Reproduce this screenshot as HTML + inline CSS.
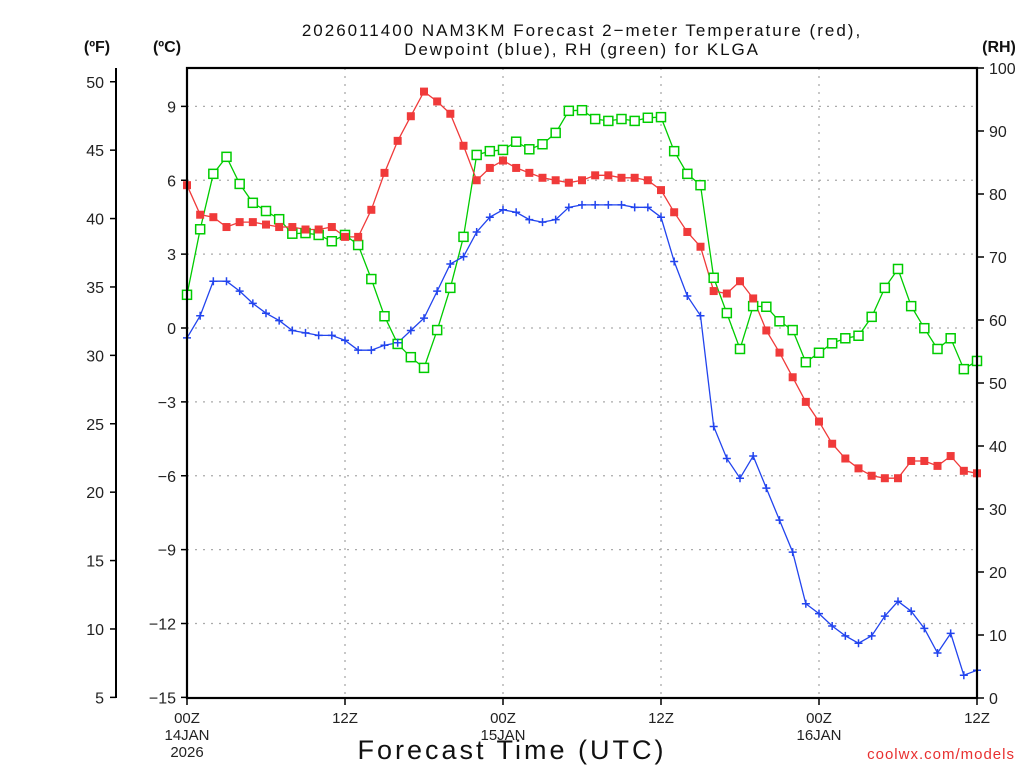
<!DOCTYPE html>
<html><head><meta charset="utf-8"><style>
body{margin:0;background:#fff;}
svg text{font-family:"Liberation Sans","DejaVu Sans",sans-serif;}
</style></head><body>
<svg id="c" width="1024" height="768" xmlns="http://www.w3.org/2000/svg">
<g id="g"></g>
</svg>
<script>
const hours=[];for(let i=0;i<=60;i++)hours.push(i);
const tempC=[5.8,4.6,4.5,4.1,4.3,4.3,4.2,4.1,4.1,4.0,4.0,4.1,3.7,3.7,4.8,6.3,7.6,8.6,9.6,9.2,8.7,7.4,6.0,6.5,6.8,6.5,6.3,6.1,6.0,5.9,6.0,6.2,6.2,6.1,6.1,6.0,5.6,4.7,3.9,3.3,1.5,1.4,1.9,1.2,-0.1,-1.0,-2.0,-3.0,-3.8,-4.7,-5.3,-5.7,-6.0,-6.1,-6.1,-5.4,-5.4,-5.6,-5.2,-5.8,-5.9];
const dewC=[-0.4,0.5,1.9,1.9,1.5,1.0,0.6,0.3,-0.1,-0.2,-0.3,-0.3,-0.5,-0.9,-0.9,-0.7,-0.6,-0.1,0.4,1.5,2.6,2.9,3.9,4.5,4.8,4.7,4.4,4.3,4.4,4.9,5.0,5.0,5.0,5.0,4.9,4.9,4.5,2.7,1.3,0.5,-4.0,-5.3,-6.1,-5.2,-6.5,-7.8,-9.1,-11.2,-11.6,-12.1,-12.5,-12.8,-12.5,-11.7,-11.1,-11.5,-12.2,-13.2,-12.4,-14.1,-13.9];
const rh=[64,74.4,83.2,85.9,81.6,78.6,77.3,76.0,73.7,73.8,73.5,72.5,73.5,71.9,66.5,60.6,56.2,54.1,52.4,58.4,65.1,73.2,86.2,86.8,87.0,88.3,87.1,87.9,89.7,93.2,93.3,91.9,91.6,91.9,91.6,92.1,92.2,86.8,83.2,81.4,66.7,61.1,55.4,62.2,62.1,59.8,58.4,53.3,54.8,56.3,57.1,57.5,60.5,65.1,68.1,62.2,58.7,55.4,57.1,52.2,53.5];
const cTicks=[9,6,3,0,-3,-6,-9,-12,-15];
const fTicks=[50,45,40,35,30,25,20,15,10,5];
const rhTicks=[100,90,80,70,60,50,40,30,20,10,0];
const xTickHours=[0,12,24,36,48,60];
const xTickLabels=[["00Z","14JAN","2026"],["12Z"],["00Z","15JAN"],["12Z"],["00Z","16JAN"],["12Z"]];

const X0=187,X1=977,Y0=68,Y1=698;
const xs=h=>X0+(h/60)*(X1-X0);
const yc=c=>328-c*24.625;
const yf=f=>yc((f-32)*5/9);
const yr=r=>Y1-(r/100)*(Y1-Y0);
const NS="http://www.w3.org/2000/svg";
const g=document.getElementById('g');
function mk(t,a,txt){const e=document.createElementNS(NS,t);for(const k in a)e.setAttribute(k,a[k]);if(txt!==undefined)e.textContent=txt;g.appendChild(e);return e;}

cTicks.forEach(c=>{if(c>-15){const e=mk('line',{x1:X0,x2:X1,y1:yc(c),y2:yc(c),stroke:'#aaa','stroke-dasharray':'2,6','stroke-width':1.3});

}});
xTickHours.forEach(h=>{if(h>0&&h<60){const e=mk('line',{x1:xs(h),x2:xs(h),y1:Y0,y2:Y1,stroke:'#aaa','stroke-dasharray':'2,6','stroke-width':1.3});

}});

function series(vals,yfn,color,name){
 const pts=vals.map((v,i)=>xs(hours[i]).toFixed(1)+','+yfn(v).toFixed(1)).join(' ');
 const l=mk('polyline',{points:pts,fill:'none',stroke:color,'stroke-width':1.3});
 
 
}
series(rh,yr,'#00cc00','rh');
series(tempC,yc,'#f03a3a','temperature');
series(dewC,yc,'#2244ee','dewpoint');
rh.forEach((v,i)=>{const x=xs(hours[i]),y=yr(v);const e=mk('rect',{x:x-4.5,y:y-4.5,width:9,height:9,fill:'#fff',stroke:'#00cc00','stroke-width':1.5});

});
tempC.forEach((v,i)=>{const x=xs(hours[i]),y=yc(v);const e=mk('rect',{x:x-4,y:y-4,width:8,height:8,fill:'#f03a3a'});

});
dewC.forEach((v,i)=>{const x=xs(hours[i]),y=yc(v);const e=mk('path',{d:`M${x-4},${y}H${x+4}M${x},${y-4}V${y+4}`,stroke:'#2244ee','stroke-width':1.5});

});

const fr=mk('rect',{x:X0,y:Y0,width:X1-X0,height:Y1-Y0,fill:'none',stroke:'#000','stroke-width':2.2});


const fa=mk('line',{x1:116,x2:116,y1:Y0,y2:Y1,stroke:'#000','stroke-width':2});


fTicks.forEach(f=>{const y=yf(f);mk('line',{x1:110,x2:116,y1:y,y2:y,stroke:'#000','stroke-width':1.5});
const t=mk('text',{x:104,y:y+6,'text-anchor':'end','font-size':16,fill:'#222'},f);

});
cTicks.forEach(c=>{const y=yc(c);mk('line',{x1:181,x2:187,y1:y,y2:y,stroke:'#000','stroke-width':1.5});
const t=mk('text',{x:176,y:y+6,'text-anchor':'end','font-size':16,fill:'#222'},c<0?'\u2212'+(-c):c);

});
rhTicks.forEach(r=>{const y=yr(r);mk('line',{x1:977,x2:984,y1:y,y2:y,stroke:'#000','stroke-width':1.5});
const t=mk('text',{x:989,y:y+6,'font-size':16,fill:'#222'},r);

});
xTickHours.forEach((h,i)=>{const x=xs(h);mk('line',{x1:x,x2:x,y1:698,y2:705,stroke:'#000','stroke-width':1.5});
xTickLabels[i].forEach((s,j)=>{const t=mk('text',{x:x,y:723+j*17,'text-anchor':'middle','font-size':15,fill:'#222'},s);

});});

function label(x,y,s,a,name){const t=mk('text',Object.assign({x:x,y:y},a),s);}
label(582,36,'2026011400 NAM3KM Forecast 2\u2212meter Temperature (red),',{'text-anchor':'middle','font-size':17,fill:'#111','letter-spacing':'2'},'chart-title-line1');
label(582,55,'Dewpoint (blue), RH (green) for KLGA',{'text-anchor':'middle','font-size':17,fill:'#111','letter-spacing':'1.9'},'chart-title-line2');
label(97,52,'(ºF)',{'text-anchor':'middle','font-size':16,'font-weight':'bold',fill:'#111'},'fahrenheit-axis-title');
label(167,52,'(ºC)',{'text-anchor':'middle','font-size':16,'font-weight':'bold',fill:'#111'},'celsius-axis-title');
label(999,52,'(RH)',{'text-anchor':'middle','font-size':16,'font-weight':'bold',fill:'#111'},'rh-axis-title');
label(512,759,'Forecast Time (UTC)',{'text-anchor':'middle','font-size':27,fill:'#111','letter-spacing':'3'},'x-axis-title');
label(1015,759,'coolwx.com/models',{'text-anchor':'end','font-size':15,fill:'#e83030','letter-spacing':'1'},'source-credit');
</script>
</body></html>
